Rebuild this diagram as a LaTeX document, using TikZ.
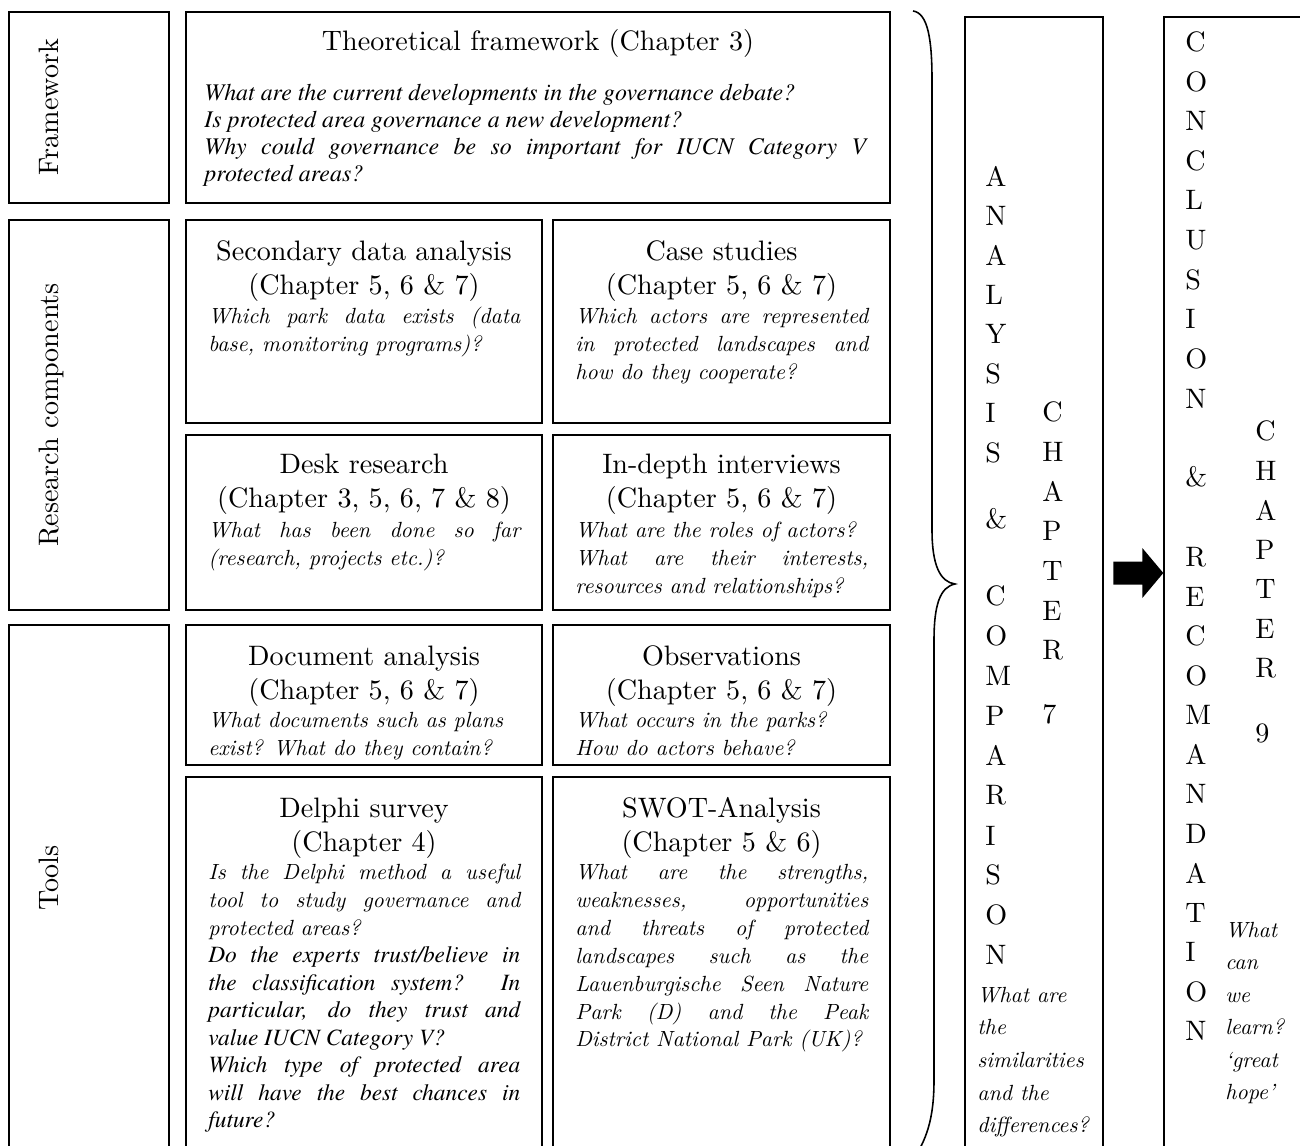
\documentclass[tikz,border=0pt]{standalone}
\usepackage{fontspec}
\setmainfont{lmroman10-regular}[Extension=.otf, ItalicFont=lmroman10-italic]
\newfontfamily\timesfont{texgyretermes-regular}[Extension=.otf, ItalicFont=texgyretermes-italic]
\usetikzlibrary{positioning, fit, calc}
\setlength{\parindent}{0pt}
\hyphenpenalty=10000
\exhyphenpenalty=10000

\begin{document}
\begin{tikzpicture}[x=0.02cm, y=-0.02cm,
    cellbox/.style={draw, line width=1.1pt, inner sep=0pt},
    colbox/.style={draw, line width=0.8pt, inner sep=0pt},
    sidelabel/.style={rotate=90, anchor=base, inner sep=0pt, font=\fontsize{16}{19.6}\selectfont},
    headtext/.style={anchor=north, align=center, inner sep=0pt, font=\fontsize{16}{19.6}\selectfont},
    quest/.style={anchor=north west, align=justify, inner sep=0pt, font=\fontsize{12.5}{15.85}\selectfont\itshape},
    tquest/.style={quest, font=\fontsize{13.6}{15.4}\selectfont\timesfont\itshape},
    letter/.style={anchor=west, inner sep=0pt, font=\fontsize{16}{18}\selectfont},
    colq/.style={anchor=north west, align=left, inner sep=0pt, font=\fontsize{12.5}{18.6}\selectfont\itshape}
]
    \useasboundingbox (0,0) rectangle (1300,1145);
    \clip (0,0) rectangle (1300,1145);

    % Row labels
    \node[cellbox, fit={(9,12) (169,203)}] (fw) {};
    \node[cellbox, fit={(9,220) (169,610)}] (rc) {};
    \node[cellbox, fit={(9,625) (169,1170)}] (tl) {};
    \node[sidelabel] (fwlab) at (58,107) {Framework};
    \node[sidelabel] (rclab) at (58,415) {Research components};
    \node[sidelabel] (tllab) at (58,878) {Tools};

    % Boxes
    \node[cellbox, fit={(186,12) (890,203)}] (theo) {};
    \node[cellbox, fit={(186,220) (542,423)}] (sec) {};
    \node[cellbox, fit={(553,220) (890,423)}] (case) {};
    \node[cellbox, fit={(186,435) (542,610)}] (desk) {};
    \node[cellbox, fit={(553,435) (890,610)}] (intv) {};
    \node[cellbox, fit={(186,625) (542,765)}] (doc) {};
    \node[cellbox, fit={(553,625) (890,765)}] (obs) {};
    \node[cellbox, fit={(186,777) (542,1170)}] (delphi) {};
    \node[cellbox, fit={(553,777) (890,1170)}] (swot) {};

    % Headings
    \node[headtext] (theoh) at (538,26) {\strut Theoretical framework (Chapter 3)};
    \node[headtext] (sech) at (364,236) {\strut Secondary data analysis\\(Chapter 5, 6 \& 7)};
    \node[headtext] (caseh) at (721.5,236) {\strut Case studies\\(Chapter 5, 6 \& 7)};
    \node[headtext] (deskh) at (364,449) {\strut Desk research\\(Chapter 3, 5, 6, 7 \& 8)};
    \node[headtext] (intvh) at (721.5,449) {\strut In-depth interviews\\(Chapter 5, 6 \& 7)};
    \node[headtext] (doch) at (364,641) {\strut Document analysis\\(Chapter 5, 6 \& 7)};
    \node[headtext] (obsh) at (721.5,641) {\strut Observations\\(Chapter 5, 6 \& 7)};
    \node[headtext] (delphih) at (364,793) {\strut Delphi survey\\(Chapter 4)};
    \node[headtext] (swoth) at (721.5,793) {\strut SWOT-Analysis\\(Chapter 5 \& 6)};

    % Questions
    \node[tquest, text width=13.24cm] (theoq) at (204,81) {\strut What are the current developments in the governance debate?\newline
        Is protected area governance a new development?\newline
        Why could governance be so important for IUCN Category V\linebreak protected areas?};
    \node[quest, text width=6.24cm] (secq) at (208,304) {\strut Which park data exists (data\linebreak base, monitoring programs)?};
    \node[quest, text width=5.86cm] (caseq) at (575,304) {\strut Which actors are represented\linebreak in protected landscapes and\linebreak how do they cooperate?};
    \node[quest, text width=6.24cm] (deskq) at (208,518) {\strut What has been done so far\linebreak (research, projects etc.)?};
    \node[quest, text width=5.86cm] (intvq) at (575,518) {\strut What are the roles of actors?\newline What are their interests,\linebreak resources and relationships?};
    \node[quest, text width=6.24cm] (docq) at (208,708) {\strut What documents such as plans\newline exist? What do they contain?};
    \node[quest, text width=5.86cm] (obsq) at (575,708) {\strut What occurs in the parks?\newline How do actors behave?};
    \node[quest, text width=6.24cm] (delphiq) at (208,860) {\strut Is the Delphi method a useful\linebreak tool to study governance and\linebreak protected areas?\par
        {\fontsize{13.3}{15.6}\selectfont\timesfont Do the experts trust/believe in\linebreak the classification system? In\linebreak particular, do they trust and\linebreak value IUCN Category V?\newline
        Which type of protected area\linebreak will have the best chances in\linebreak future?\par}};
    \node[quest, text width=5.86cm] (swotq) at (575,860) {\strut What are the strengths,\linebreak weaknesses, opportunities\linebreak and threats of protected\linebreak landscapes such as the\linebreak Lauenburgische Seen Nature\linebreak Park (D) and the Peak\linebreak District National Park (UK)?};

    % Brace
    \draw[line width=0.9pt] (913,11) .. controls (928,13) and (932,40) .. (932,80) -- (932,530)
        .. controls (932,565) and (940,582) .. (955,584)
        .. controls (940,587) and (934,605) .. (934,640) -- (934,1080)
        .. controls (934,1120) and (926,1140) .. (913,1160);

    % Analysis & comparison
    \node[colbox, fit={(965,17) (1103,1170)}] (ana) {};
    \foreach \l [count=\i from 0] in {A,N,A,L,Y,S,I,S}
        \node[letter] (an\i) at (985,{176+39.5*\i}) {\l};
    \node[letter] (anamp) at (985,519) {\&};
    \foreach \l [count=\i from 0] in {C,O,M,P,A,R,I,S,O,N}
        \node[letter] (cm\i) at (985,{596+39.9*\i}) {\l};
    \foreach \l [count=\i from 0] in {C,H,A,P,T,E,R}
        \node[letter] (cha\i) at (1042,{412+39.7*\i}) {\l};
    \node[letter] (chanum) at (1042,714) {7};
    \node[colq] (anaq) at (977,979) {\strut What are\\the\\similarities\\and the\\differences?};

    % Arrow
    \node[colbox, fit={(1164,17) (1320,1170)}] (con) {};
    \coordinate (arrowlevel) at (0,573);
    \coordinate (tip) at (con.west |- arrowlevel);
    \fill (tip) -- ++(-21,-25) -- ++(0,13.5) -- ++(-29,0) -- ++(0,23) -- ++(29,0) -- ++(0,13.5) -- cycle;

    % Conclusion & recommendation
    \foreach \l [count=\i from 0] in {C,O,N,C,L,U,S,I,O,N}
        \node[letter] (cn\i) at (1185,{42+39.6*\i}) {\l};
    \node[letter] (cnamp) at (1185,477) {\&};
    \foreach \l [count=\i from 0] in {R,E,C,O,M,A,N,D,A,T,I,O,N}
        \node[letter] (rc\i) at (1185,{557+39.5*\i}) {\l};
    \foreach \l [count=\i from 0] in {C,H,A,P,T,E,R}
        \node[letter] (chb\i) at (1255,{431+39.5*\i}) {\l};
    \node[letter] (chbnum) at (1255,733) {9};
    \node[colq, font=\fontsize{12.5}{18.5}\selectfont\itshape] (conq) at (1225,914) {\strut What\\can\\we\\learn?\\‘great\\hope’};

\end{tikzpicture}
\end{document}
